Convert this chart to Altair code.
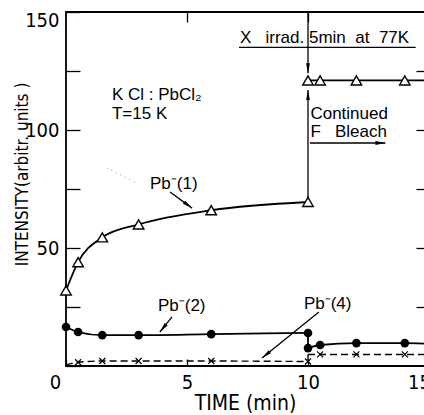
import math

import altair as alt
import pandas as pd

# ---- measured band intensities (time in min, intensity in arbitrary units) ----
# Pb-(1): growth under F bleach, then after X irradiation (5 min at 77 K)
t_pb1_bleach = [0, 0.5, 1.5, 3, 6, 10]
pb1_bleach = [32, 44, 54.5, 60, 66, 69.5]
t_pb1_irrad = [10, 10.5, 12, 14, 15]
pb1_irrad = [121, 121, 121, 121, 121]
pb1_irrad_marked = [1, 1, 1, 1, 0]

# Pb-(2)
t_pb2_bleach = [0, 0.5, 1.5, 3, 6, 10]
pb2_bleach = [16.5, 14.4, 13.1, 13.1, 13.5, 14.0]
t_pb2_irrad = [10, 10.5, 12, 14, 15]
pb2_irrad = [7.6, 8.9, 9.7, 9.7, 9.4]
pb2_irrad_marked = [1, 1, 1, 1, 0]

# Pb-(4)
t_pb4_bleach = [0, 0.5, 1.5, 3, 6, 10]
pb4_bleach = [0.4, 1.6, 2.1, 2.1, 2.1, 1.9]
pb4_bleach_marked = [0, 1, 1, 1, 1, 1]
t_pb4_irrad = [10, 10.5, 12, 14, 15]
pb4_irrad = [4.9, 4.9, 4.9, 4.9, 4.9]
pb4_irrad_marked = [0, 1, 1, 1, 0]

# axis tick values
x_ticks = [0, 5, 10, 15]
y_ticks = [0, 25, 50, 75, 100, 125, 150]

W, H = 363, 354
X_MAX, Y_MAX = 15, 150
PX_X, PX_Y = W / X_MAX, H / Y_MAX

NARROW = "DejaVu Sans Condensed, Liberation Sans Narrow, Liberation Sans, sans-serif"
SANS = "Liberation Sans, Arial, sans-serif"
NB = "\u00a0"  # non-collapsing space for the wide gaps in the notes

xs = alt.Scale(domain=[0, X_MAX], nice=False, zero=False)
ys = alt.Scale(domain=[0, Y_MAX], nice=False, zero=False)


def rows(series, seg, t, v, marked=None):
    marked = marked if marked is not None else [1] * len(t)
    return [dict(series=series, seg=seg, t=a, v=b, marked=m) for a, b, m in zip(t, v, marked)]


recs = []
recs += rows("pb1", "pb1a", t_pb1_bleach, pb1_bleach)
recs += rows("pb1", "pb1b", t_pb1_irrad, pb1_irrad, pb1_irrad_marked)
recs += rows("pb2", "pb2a", t_pb2_bleach, pb2_bleach)
recs += rows("pb2", "pb2j", [t_pb2_bleach[-1], t_pb2_irrad[0]], [pb2_bleach[-1], pb2_irrad[0]], [0, 0])
recs += rows("pb2", "pb2b", t_pb2_irrad, pb2_irrad, pb2_irrad_marked)
recs += rows("pb4", "pb4a", t_pb4_bleach, pb4_bleach, pb4_bleach_marked)
recs += rows("pb4", "pb4j", [t_pb4_bleach[-1], t_pb4_irrad[0]], [pb4_bleach[-1], pb4_irrad[0]], [0, 0])
recs += rows("pb4", "pb4b", t_pb4_irrad, pb4_irrad, pb4_irrad_marked)
data = pd.DataFrame(recs)

solid = data[data.series.isin(["pb1", "pb2"])]
dashed = data[data.series == "pb4"]


def X(axis=None):
    return alt.X("t:Q", scale=xs, axis=axis)


def Y(axis=None):
    return alt.Y("v:Q", scale=ys, axis=axis)


solid_lines = alt.Chart(solid).mark_line(
    color="black", strokeWidth=1.8, interpolate="monotone"
).encode(x=X(), y=Y(), detail="seg:N")

dashed_lines = alt.Chart(dashed).mark_line(
    color="black", strokeWidth=1.4, strokeDash=[7, 4], interpolate="monotone"
).encode(x=X(), y=Y(), detail="seg:N")

# ---- leader lines and arrows (start -> tip) ----
leaders = [
    (4.30, 73.7, 5.21, 66.9),    # Pb-(1) label
    (4.38, 20.8, 3.88, 14.4),    # Pb-(2) label
    (10.45, 22.9, 8.10, 3.4),    # Pb-(4) label
    (10.0, 150.0, 10.0, 124.0),  # X irradiation
    (10.0, 69.5, 10.0, 117.0),   # continued F bleach (vertical)
    (10.08, 94.5, 13.2, 94.5),   # continued F bleach (horizontal)
]
lead_df = pd.DataFrame(leaders, columns=["x0", "y0", "x1", "y1"])

heads = []
for x0, y0, x1, y1 in leaders:
    dxp, dyp = (x1 - x0) * PX_X, (y1 - y0) * PX_Y
    n = math.hypot(dxp, dyp)
    back = 5.0
    cx = x1 - dxp / n * back / PX_X
    cy = y1 - dyp / n * back / PX_Y
    ang = math.degrees(math.atan2(dxp, dyp)) % 360
    heads.append(dict(x=cx, y=cy, angle=ang))
head_df = pd.DataFrame(heads)

leader_rules = alt.Chart(lead_df).mark_rule(color="black", strokeWidth=1.3).encode(
    x=alt.X("x0:Q", scale=xs, axis=None), y=alt.Y("y0:Q", scale=ys, axis=None),
    x2="x1:Q", y2="y1:Q",
)

arrow_heads = alt.Chart(head_df).mark_point(
    shape="M0,-1L-0.38,1L0.38,1Z", filled=True, color="black", opacity=1, size=100
).encode(
    x=alt.X("x:Q", scale=xs, axis=None), y=alt.Y("y:Q", scale=ys, axis=None),
    angle=alt.Angle("angle:Q", scale=None),
)

# faint dotted stroke beside the Pb-(1) label
dots_df = pd.DataFrame({"x": [1.69, 2.93], "y": [83.9, 77.5]})
dots = alt.Chart(dots_df).mark_line(color="#888888", strokeWidth=1, strokeDash=[1, 4]).encode(
    x=alt.X("x:Q", scale=xs, axis=None), y=alt.Y("y:Q", scale=ys, axis=None)
)

# underline of the irradiation note
under_df = pd.DataFrame({"x0": [7.15], "x1": [14.45], "y": [135.0]})
underline = alt.Chart(under_df).mark_rule(color="black", strokeWidth=1.2).encode(
    x=alt.X("x0:Q", scale=xs, axis=None), x2="x1:Q", y=alt.Y("y:Q", scale=ys, axis=None)
)

# ---- markers ----
marked = data[data.marked == 1]
tri = alt.Chart(marked[marked.series == "pb1"]).mark_point(
    shape="triangle-up", filled=True, fill="white", stroke="black", strokeWidth=1.4,
    size=110, opacity=1,
).encode(x=X(), y=Y())
dots_pb2 = alt.Chart(marked[marked.series == "pb2"]).mark_point(
    shape="circle", filled=True, color="black", size=75, opacity=1
).encode(x=X(), y=Y())
cross_pb4 = alt.Chart(marked[marked.series == "pb4"]).mark_point(
    shape="M-1,-1L1,1M-1,1L1,-1", filled=False, color="black", strokeWidth=1.2,
    size=36, opacity=1,
).encode(x=X(), y=Y())

# ---- text ----
notes = pd.DataFrame([
    dict(x=7.19, y=137.0, text=f"X{NB * 3}irrad. 5min{NB * 2}at{NB * 2}77K"),
    dict(x=10.1, y=104.7, text="Continued"),
    dict(x=10.1, y=97.0, text=f"F{NB * 3}Bleach"),
    dict(x=1.9, y=112.7, text="K Cl : PbCl₂"),
    dict(x=1.9, y=104.7, text="T=15 K"),
    dict(x=3.47, y=75.0, text="Pb⁻(1)"),
    dict(x=3.8, y=23.3, text="Pb⁻(2)"),
    dict(x=9.83, y=24.2, text="Pb⁻(4)"),
])
labels = alt.Chart(notes).mark_text(
    align="left", baseline="alphabetic", font=SANS, fontSize=17, color="black"
).encode(
    x=alt.X("x:Q", scale=xs, axis=None), y=alt.Y("y:Q", scale=ys, axis=None), text="text:N"
)

# ---- axes (inward ticks via negative offsets) ----
frame = pd.DataFrame({"t": [0, X_MAX], "v": [0, Y_MAX]})
axes_main = alt.Chart(frame).mark_point(opacity=0).encode(
    x=alt.X("t:Q", scale=xs, title="TIME (min)", axis=alt.Axis(
        orient="bottom", values=x_ticks, offset=-7, tickSize=7, domain=False,
        labelPadding=6, labelFont=NARROW, labelFontSize=20, labelColor="black",
        labelFlush=False,
        labelOffset={
            "condition": [
                {"test": "datum.value === 0", "value": -11},
                {"test": "datum.value === 15", "value": -10},
            ],
            "value": 0,
        },
        tickColor="black", tickWidth=1.3, grid=False,
        titleFont=NARROW, titleFontSize=21, titleFontWeight="normal", titleColor="black",
        titleX=179, titleY=44, titleBaseline="middle",
    )),
    y=alt.Y("v:Q", scale=ys, title="INTENSITY(arbitr. units )", axis=alt.Axis(
        orient="left", values=y_ticks, offset=-14, tickSize=14, domain=False,
        labelPadding=7, labelFont=NARROW, labelFontSize=20, labelColor="black",
        labelExpr="datum.value % 50 === 0 && datum.value > 0 ? datum.label : ''",
        labelOffset={"condition": {"test": "datum.value === 150", "value": 8}, "value": 0},
        tickColor="black", tickWidth=1.3, grid=False,
        titleFont=NARROW, titleFontSize=17, titleFontWeight="normal", titleColor="black",
        titleX=-58, titleY=162, titleBaseline="middle", titleAngle=270,
    )),
)
axes_mirror = alt.Chart(frame).mark_point(opacity=0).encode(
    x=alt.X("t:Q", scale=xs, axis=alt.Axis(
        orient="top", values=[5, 10], offset=-10, tickSize=10, domain=False,
        labels=False, title=None, tickColor="black", tickWidth=1.3, grid=False,
    )),
    y=alt.Y("v:Q", scale=ys, axis=alt.Axis(
        orient="right", values=[25, 50, 75, 100, 125], offset=-13, tickSize=13,
        domain=False, labels=False, title=None, tickColor="black", tickWidth=1.3, grid=False,
    )),
)

# the time axis runs a few pixels past the right edge of the page
chart = alt.layer(
    axes_main, axes_mirror, dots, underline, leader_rules, dashed_lines, solid_lines,
    arrow_heads, cross_pb4, dots_pb2, tri, labels,
).resolve_axis(
    x="independent", y="independent"
).properties(
    width=W, height=H,
    autosize=alt.AutoSizeParams(type="none"),
    padding={"left": 66, "top": 12, "right": -5, "bottom": 49},
    background="white",
).configure_view(stroke="black", strokeWidth=1.8)

chart.save("out.html", embed_options={"renderer": "svg", "actions": False})
